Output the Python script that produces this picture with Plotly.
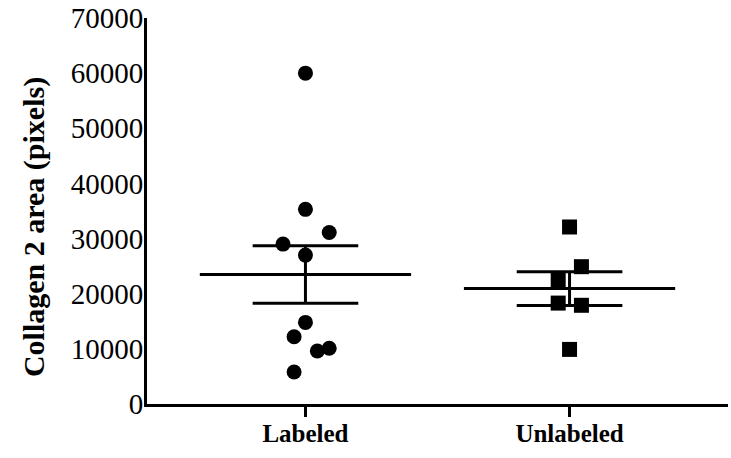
import numpy as np
import plotly.graph_objects as go

categories = ["Labeled", "Unlabeled"]
labeled_values = [60000, 35300, 31100, 29000, 27000, 14800, 12200, 10100, 9600, 5800]
labeled_jitter = [0, 0, 0.09, -0.085, 0, 0, -0.043, 0.09, 0.045, -0.043]
unlabeled_values = [32100, 24900, 22500, 18300, 17900, 9900]
unlabeled_jitter = [0, 0.045, -0.043, -0.043, 0.045, 0]
y_tick_values = [0, 10000, 20000, 30000, 40000, 50000, 60000, 70000]
y_title = "Collagen 2 area (pixels)"

FONT = "Liberation Serif"
groups = [(labeled_values, labeled_jitter, "circle"), (unlabeled_values, unlabeled_jitter, "square")]

fig = go.Figure()
for i, (vals, jit, sym) in enumerate(groups):
    v = np.array(vals, dtype=float)
    mean = v.mean()
    sem = v.std(ddof=1) / np.sqrt(len(v))
    fig.add_trace(go.Scatter(
        x=[i + j for j in jit], y=vals, mode="markers",
        marker=dict(symbol=sym, size=15, color="black", line=dict(width=0)),
        showlegend=False, hoverinfo="y"))
    lx = [i - 0.4, i + 0.4, None, i - 0.2, i + 0.2, None, i - 0.2, i + 0.2, None, i, i]
    ly = [mean, mean, None, mean + sem, mean + sem, None, mean - sem, mean - sem, None, mean - sem, mean + sem]
    fig.add_trace(go.Scatter(x=lx, y=ly, mode="lines", line=dict(color="black", width=3),
                             showlegend=False, hoverinfo="skip"))

fig.update_layout(
    width=731, height=458,
    margin=dict(l=147, r=3, t=18, b=54),
    paper_bgcolor="white", plot_bgcolor="white",
    font=dict(family=FONT, color="black"),
)
fig.update_xaxes(
    range=[-0.6, 1.6], tickvals=[0, 1], ticktext=categories, automargin=False,
    showgrid=False, zeroline=False, showline=True, linecolor="black", linewidth=3,
    ticks="outside", ticklen=10, tickwidth=3, tickcolor="black", ticklabelstandoff=-5,
    tickfont=dict(family=FONT, size=25, color="black", weight="bold"),
)
fig.update_yaxes(
    range=[0, 70000], tickvals=y_tick_values, tickformat="d", automargin=False,
    showgrid=False, zeroline=False, showline=True, linecolor="black", linewidth=3,
    ticks="", ticklabelstandoff=-5, ticklabeloverflow="allow",
    tickfont=dict(family=FONT, size=29, color="black"),
)
fig.add_annotation(
    text=y_title, xref="paper", yref="paper", x=-0.194, y=0.459,
    xanchor="center", yanchor="middle", textangle=-90, showarrow=False,
    font=dict(family=FONT, size=30, color="black", weight="bold"),
)
fig.write_html("out.html", config={"displayModeBar": False},
               post_script="document.body.style.margin='0';document.body.style.overflow='hidden';")
